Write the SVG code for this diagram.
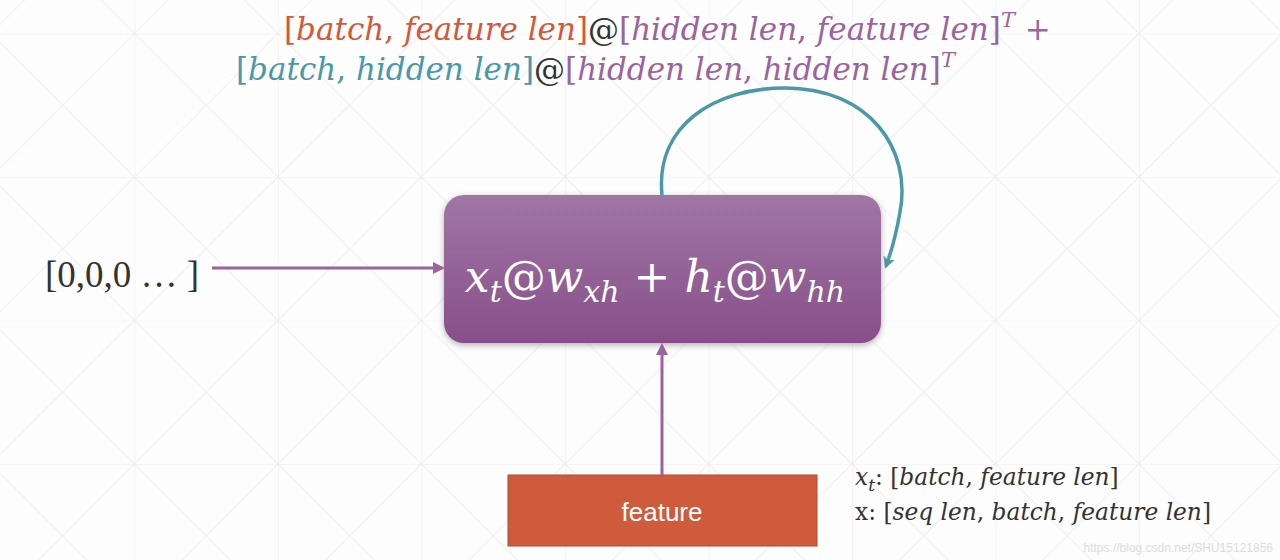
<svg xmlns="http://www.w3.org/2000/svg" width="1280" height="560" viewBox="0 0 1280 560">
<style>
.m{font-family:"DejaVu Serif","Liberation Serif",serif;}
.i{font-style:italic;}
.or{fill:#d2593a;}
.pu{fill:#9a64a0;}
.te{fill:#4a98a8;}
.dk{fill:#333333;}
</style>
<defs>
<pattern id="grid" x="-9" y="-110" width="143.5" height="143.5" patternUnits="userSpaceOnUse">
<path d="M0,0H143.5M0,0V143.5M0,0L143.5,143.5M143.5,0L0,143.5" fill="none" stroke="#efefef" stroke-width="1.2"/>
</pattern>
<linearGradient id="boxg" x1="0" y1="0" x2="0" y2="1">
<stop offset="0" stop-color="#a076a6"/>
<stop offset="1" stop-color="#874f89"/>
</linearGradient>
<filter id="sh" x="-10%" y="-10%" width="120%" height="130%">
<feDropShadow dx="0" dy="2" stdDeviation="3" flood-color="#000" flood-opacity="0.3"/>
</filter>
<marker id="ap" markerWidth="12" markerHeight="12" refX="9" refY="6" orient="auto" markerUnits="userSpaceOnUse">
<path d="M0,0L12,6L0,12Z" fill="#9a64a0"/>
</marker>
<marker id="at" markerWidth="12" markerHeight="12" refX="9" refY="6" orient="auto" markerUnits="userSpaceOnUse">
<path d="M0,0L12,6L0,12L3,6Z" fill="#4a98a8"/>
</marker>
</defs>
<rect width="1280" height="560" fill="#fdfdfd"/>
<rect width="1280" height="560" fill="url(#grid)"/>

<g id="formula-top" class="m" font-size="31">
<text x="284" y="40"><tspan class="or">[</tspan><tspan class="or i">batch</tspan><tspan class="or">, </tspan><tspan class="or i">feature len</tspan><tspan class="or">]</tspan><tspan class="dk">@</tspan><tspan class="pu">[</tspan><tspan class="pu i">hidden len</tspan><tspan class="pu">, </tspan><tspan class="pu i">feature len</tspan><tspan class="pu">]</tspan><tspan class="pu i" font-size="21" dy="-13">T</tspan><tspan class="pu" dy="13"> +</tspan></text>
<text x="236" y="80"><tspan class="te">[</tspan><tspan class="te i">batch</tspan><tspan class="te">, </tspan><tspan class="te i">hidden len</tspan><tspan class="te">]</tspan><tspan class="dk">@</tspan><tspan class="pu">[</tspan><tspan class="pu i">hidden len</tspan><tspan class="pu">, </tspan><tspan class="pu i">hidden len</tspan><tspan class="pu">]</tspan><tspan class="pu i" font-size="21" dy="-13">T</tspan></text>
</g>

<g id="input-zero">
<text x="45" y="287" font-family="Liberation Serif, serif" font-size="37" fill="#333">[0,0,0 … ]</text>
</g>

<g id="rnn-cell">
<rect x="444" y="195" width="437" height="148" rx="20" fill="url(#boxg)" filter="url(#sh)"/>
<text x="655" y="292" text-anchor="middle" class="m" font-size="44" fill="#fff"><tspan class="i">x</tspan><tspan class="i" font-size="30" dy="10">t</tspan><tspan dy="-10">@</tspan><tspan class="i">w</tspan><tspan class="i" font-size="30" dy="10">xh</tspan><tspan dy="-10"> + </tspan><tspan class="i">h</tspan><tspan class="i" font-size="30" dy="10">t</tspan><tspan dy="-10">@</tspan><tspan class="i">w</tspan><tspan class="i" font-size="30" dy="10">hh</tspan></text>
</g>

<g id="feature">
<rect x="508" y="475" width="309" height="71" fill="#d05a3c" stroke="#b44a30" stroke-width="1"/>
<text x="662" y="521" text-anchor="middle" font-family="Liberation Sans, Arial, sans-serif" font-size="26" fill="#fff">feature</text>
</g>

<g id="shape-notes" class="m" font-size="23.3" fill="#333">
<text x="855" y="485"><tspan class="i">x</tspan><tspan class="i" font-size="17" dy="6">t</tspan><tspan dy="-6">: [</tspan><tspan class="i">batch</tspan><tspan>, </tspan><tspan class="i">feature len</tspan><tspan>]</tspan></text>
<text x="855" y="520"><tspan>x: [</tspan><tspan class="i">seq len</tspan><tspan>, </tspan><tspan class="i">batch</tspan><tspan>, </tspan><tspan class="i">feature len</tspan><tspan>]</tspan></text>
</g>

<g id="connectors" fill="none">
<path d="M212,268H442" stroke="#9a64a0" stroke-width="3" marker-end="url(#ap)"/>
<path d="M662,475V346" stroke="#9a64a0" stroke-width="3" marker-end="url(#ap)"/>
<path d="M662,195C655,125 715,88 785,88C870,88 912,150 900,212C896,235 892,250 886,266" stroke="#4a98a8" stroke-width="3.5" marker-end="url(#at)"/>
</g>

<text x="1273" y="552" text-anchor="end" font-family="Liberation Sans, Arial, sans-serif" font-size="12" fill="#dcdcdc">https://blog.csdn.net/SHU15121856</text>
</svg>
